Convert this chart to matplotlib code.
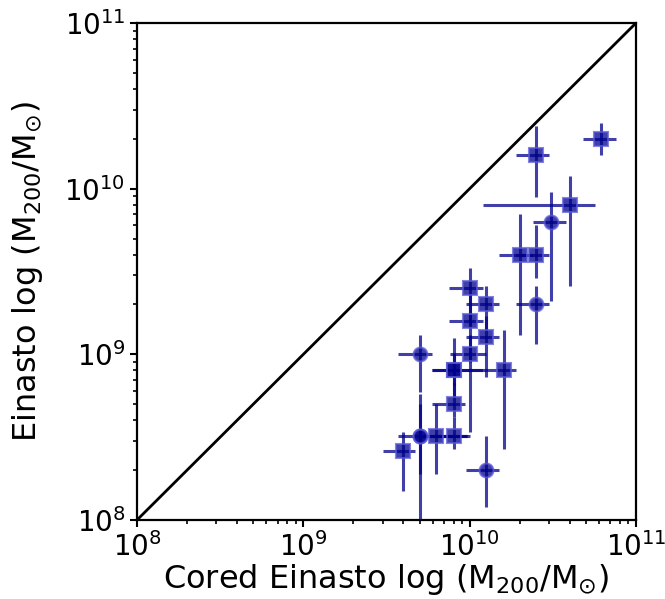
import matplotlib
matplotlib.use("Agg")
import matplotlib.pyplot as plt
import numpy as np

plt.rcParams["font.family"] = "DejaVu Sans"
plt.rcParams["mathtext.fontset"] = "dejavusans"

# cored Einasto mass (x) with lower/upper bounds, Einasto mass (y) with bounds
m_cored = [6.2e10, 2.5e10, 4.0e10, 3.1e10, 2.0e10, 2.5e10, 2.5e10, 1.0e10,
           1.25e10, 1.0e10, 1.25e10, 1.0e10, 5.0e9, 8.0e9, 8.0e9, 1.6e10,
           8.0e9, 8.0e9, 6.3e9, 5.0e9, 5.0e9, 4.0e9, 1.25e10]
m_cored_lo = [4.8e10, 1.9e10, 1.2e10, 2.4e10, 1.5e10, 1.9e10, 1.9e10, 7.5e9,
              9.5e9, 7.5e9, 9.5e9, 7.6e9, 3.7e9, 5.9e9, 5.9e9, 1.2e10,
              5.9e9, 6.0e9, 4.9e9, 3.7e9, 5.0e9, 3.0e9, 9.5e9]
m_cored_hi = [7.6e10, 3.0e10, 5.7e10, 3.8e10, 2.4e10, 3.0e10, 3.0e10, 1.2e10,
              1.5e10, 1.2e10, 1.5e10, 1.25e10, 5.9e9, 1.2e10, 1.2e10, 1.9e10,
              9.4e9, 1.0e10, 8.0e9, 9.6e9, 9.6e9, 4.7e9, 1.5e10]
m_ein = [2.0e10, 1.6e10, 8.0e9, 6.3e9, 4.0e9, 4.0e9, 2.0e9, 2.5e9,
         2.0e9, 1.6e9, 1.27e9, 1.0e9, 1.0e9, 8.0e8, 8.0e8, 8.0e8,
         5.0e8, 3.2e8, 3.2e8, 3.2e8, 3.2e8, 2.6e8, 2.0e8]
m_ein_lo = [1.6e10, 8.9e9, 2.6e9, 2.1e9, 1.3e9, 2.9e9, 1.16e9, 1.5e9,
            1.4e9, 9.0e8, 7.3e8, 3.4e8, 5.9e8, 5.5e8, 6.5e8, 2.7e8,
            4.2e8, 2.7e8, 1.9e8, 1.0e8, 1.9e8, 1.5e8, 1.2e8]
m_ein_hi = [2.5e10, 2.4e10, 1.2e10, 9.5e9, 7.0e9, 6.0e9, 2.6e9, 3.3e9,
            2.6e9, 2.3e9, 1.7e9, 1.3e9, 1.3e9, 1.25e9, 1.0e9, 1.4e9,
            6.7e8, 4.2e8, 5.0e8, 5.8e8, 5.0e8, 3.4e8, 3.2e8]
shapes = ["s", "s", "s", "o", "s", "s", "o", "s",
          "s", "s", "s", "s", "o", "s", "s", "s",
          "s", "s", "s", "o", "o", "s", "o"]

fig = plt.figure(figsize=(6.65, 5.99), dpi=100)
ax = fig.add_axes([137 / 665, 1 - 520 / 599, 499 / 665, 497 / 599])

ax.plot([1e8, 1e11], [1e8, 1e11], color="black", lw=2, zorder=1)

for i in range(len(m_cored)):
    xe = [[m_cored[i] - m_cored_lo[i]], [m_cored_hi[i] - m_cored[i]]]
    ye = [[m_ein[i] - m_ein_lo[i]], [m_ein_hi[i] - m_ein[i]]]
    ax.errorbar(m_cored[i], m_ein[i], xerr=xe, yerr=ye, fmt=shapes[i],
                color="darkblue", ecolor="darkblue", elinewidth=2.2,
                ms=10, mfc=(0.0, 0.0, 0.55, 0.65), mec=(0.35, 0.35, 0.85, 0.6),
                mew=1.5, alpha=0.75, capsize=0, zorder=3)

ax.set_xscale("log")
ax.set_yscale("log")
ax.set_xlim(1e8, 1e11)
ax.set_ylim(1e8, 1e11)
ax.set_xlabel(r"Cored Einasto log (M$_{200}$/M$_{\odot}$)", fontsize=23, labelpad=0)
ax.set_ylabel(r"Einasto log (M$_{200}$/M$_{\odot}$)", fontsize=23, labelpad=14)
ax.tick_params(axis="both", which="major", labelsize=20, length=5, width=1.5)
ax.tick_params(axis="both", which="minor", length=3, width=1.2)
for s in ax.spines.values():
    s.set_linewidth(1.6)

fig.savefig("out.png", dpi=100)
